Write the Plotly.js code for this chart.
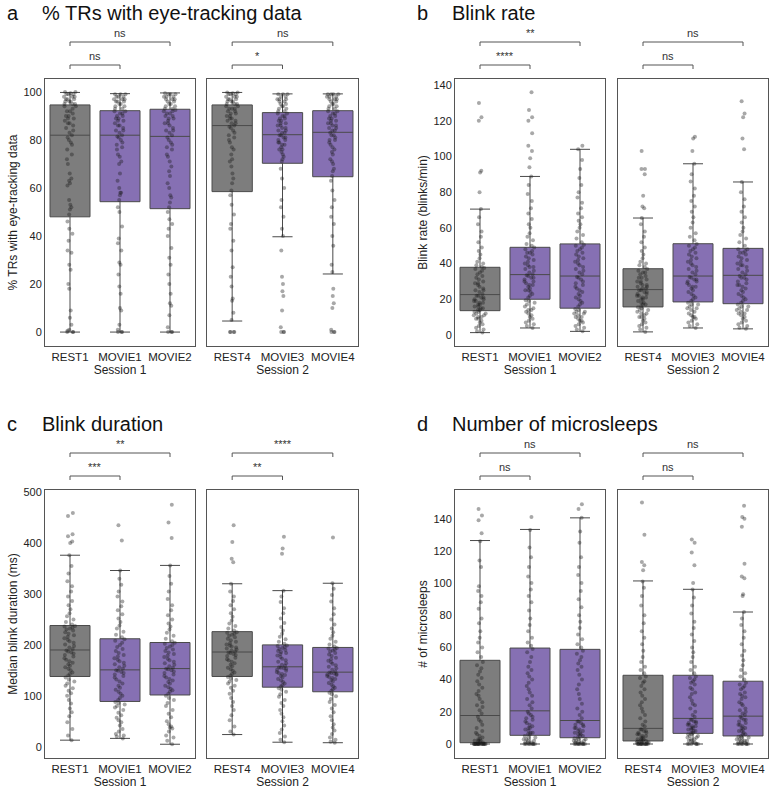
<!DOCTYPE html>
<html>
<head>
<meta charset="utf-8">
<script src="https://cdn.plot.ly/plotly-3.0.1.min.js"></script>
<style>
  body { margin: 0; background: #fff; }
  #chart { width: 772px; height: 790px; }
</style>
</head>
<body>
<div id="chart"></div>
<script>
// groups per session
var session1 = ['REST1', 'MOVIE1', 'MOVIE2'];
var session2 = ['REST4', 'MOVIE3', 'MOVIE4'];

// panel titles / y titles
var panelLetters = ['a', 'b', 'c', 'd'];
var panelTitles = ['% TRs with eye-tracking data', 'Blink rate', 'Blink duration', 'Number of microsleeps'];
var yTitles = ['% TRs with eye-tracking data', 'Blink rate (blinks/min)', 'Median blink duration (ms)', '# of microsleeps'];

// box stats, order: REST1, MOVIE1, MOVIE2, REST4, MOVIE3, MOVIE4
var aQ1 = [48, 54.3, 51.4, 58.5, 70.3, 64.7];
var aMed = [82, 82, 81.5, 86, 82.2, 83.2];
var aQ3 = [94.6, 92.2, 92.8, 94.6, 91.4, 92.2];
var aLo = [0, 0, 0, 4.6, 39.7, 24.2];
var aHi = [99.8, 99.3, 99.6, 99.8, 99.2, 99.2];

var bQ1 = [13.6, 20, 15, 15.7, 18.5, 17.5];
var bMed = [22.6, 33.8, 33, 25.4, 33, 33.4];
var bQ3 = [37.9, 49.1, 51, 37.1, 51.1, 48.5];
var bLo = [1.3, 3.9, 2, 1.7, 3.9, 3.4];
var bHi = [70.5, 88.8, 104, 65.5, 95.9, 85.7];

var cQ1 = [138, 89, 101.7, 138, 117, 108];
var cMed = [190, 151, 153.5, 186, 157, 146.5];
var cQ3 = [238, 212, 204.7, 226, 200, 195];
var cLo = [13, 16.5, 5, 24, 9, 8];
var cHi = [376, 346, 356, 320, 306.5, 321];

var dQ1 = [0.8, 5.4, 3.9, 1.9, 6.6, 5];
var dMed = [17.7, 20.6, 14.6, 9.7, 15.9, 17.3];
var dQ3 = [52, 59.6, 58.8, 42.7, 42.7, 39];
var dLo = [0, 0, 0, 0, 0, 0];
var dHi = [126.4, 133.3, 140.5, 101.3, 96.1, 82];

// individual subjects
var aRest1 = [0,0,0,0.5,1,3,6,9,18,20,26,28,33,34,38,41,43,46,49,51,52,53,55,61,62,63,64,66,70,72,74,76,78,79,80,81,82,83,84,85,86,87,87,88,89,89,90,90,91,92,92,93,94,94,95,95,95,96,96,96,97,97,97,98,98,98,99,99,99,99.5,100,100];
var aMovie1 = [0,0,0,1,3,9,10,16,19,24,28,29,34,37,39,44,50,52,55,57,58,58,60,63,66,70,71,73,74,76,77,78,79,80,81,81.5,82,83,84,84,85,86,86,87,88,88,89,89,90,90,91,91,92,92,93,93,94,94,95,95,96,96,96,97,97,97,98,98,98,99,99,99];
var aMovie2 = [0,0,0,2,7,11,12,16,20,24,28,31,35,40,43,45,47,50,52,54,56,57,60,62,65,67,69,71,73,74,76,77,78,79,80,81,82,83,84,84,85,86,87,87,88,89,89,90,90,91,91,92,92,92.5,93,93,94,94,95,95,96,96,97,97,97,98,98,98,99,99,99,99.5];
var aRest4 = [0,0,0,0,5,8,13,14,19,23,27,34,38,43,45,49,53,57,59,62,64,66,69,71,72,74,76,77,79,80,81,82,83,84,85,85.5,86,87,87,88,88,89,89,90,90,91,91,92,92,93,93,93,94,94,95,95,95,96,96,96,97,97,97,98,98,98,99,99,99,99.5,99.8,99.8];
var aMovie3 = [0,0,0,2,9,15,17,20,23,34,40,43,48,52,55,60,64,68,71,72,73,74,75,76,76,77,78,78,79,79,80,80,81,81,82,82,83,83,84,84,85,85,86,86,87,87,88,88,89,89,90,90,91,91,92,92,93,93,94,94,95,95,96,96,97,97,97,98,98,99,99,99];
var aMovie4 = [0,0,0,1,10,12,15,18,25,28,36,40,45,48,52,55,59,63,65,67,68,70,71,72,74,75,76,77,78,79,80,80,81,82,82,83,84,84,85,85,86,86,87,87,88,88,89,89,90,90,91,91,92,92,93,93,94,94,95,95,96,96,97,97,97,98,98,98,99,99,99,99];

var bRest1 = [1.3,2,3,4,5,6,7,8,9,9,10,10,11,11,12,12,13,13,14,14,15,15,16,16,17,17,18,18,19,19,20,20,21,21,22,22,23,24,25,25,26,27,28,29,29,30,31,32,33,34,35,36,37,37.5,38,39,40,41,43,45,47,49,52,55,58,62,66,70.5,80,91,92,120,122,130];
var bMovie1 = [3.9,5,6,7,8,9,10,11,12,13,14,14,15,16,17,18,19,19.5,21,22,23,24,25,25,26,27,28,28,29,30,30,31,32,32,33,33.5,34,35,36,37,38,38,39,40,41,42,43,44,45,46,46,47,48,49,50,51,53,55,57,60,62,65,68,71,75,79,84,88.8,94,99,103,106,113,120,122,126,136];
var bMovie2 = [2,3,4,5,6,7,8,8,9,10,10,11,12,12,13,13,14,14.5,16,17,18,19,20,21,22,23,24,25,26,27,28,29,30,31,32,32.5,34,35,36,37,38,39,40,41,42,43,44,45,46,47,48,49,50,50.5,52,54,56,58,60,62,64,66,68,71,74,77,80,84,88,93,98,104,106];
var bRest4 = [1.7,3,4,5,6,7,8,9,10,10,11,12,12,13,14,14,15,15.5,16,17,17,18,18,19,20,20,21,21,22,22,23,23,24,24,25,25,26,26,27,27,28,28,29,30,30,31,32,32,33,34,35,35,36,37,38,39,40,41,43,45,47,49,52,55,58,62,65.5,71,72,78,90,93,93,103];
var bMovie3 = [3.9,5,6,7,8,9,10,10,11,12,13,14,15,15,16,17,17,18,19,20,21,22,23,24,25,26,27,27,28,29,30,30,31,31,32,32.5,34,35,36,37,38,39,40,41,42,43,44,45,46,47,48,49,50,51,53,55,57,60,63,66,69,72,75,78,82,86,90,95.9,103,110,111];
var bMovie4 = [3.4,4,5,6,7,8,9,10,11,12,12,13,14,14,15,16,16,17,18,19,20,21,22,23,24,25,26,27,28,28,29,30,31,32,32,33,34,35,36,37,38,39,39,40,41,42,43,44,45,46,46,47,48,48,50,52,54,56,58,60,63,66,69,72,76,80,85.7,104,110,122,124,131];

var cRest1 = [13,22,35,48,60,68,75,85,92,100,105,110,115,120,124,128,132,136,140,143,146,150,153,156,159,162,165,168,171,174,177,180,183,185,187,189,192,195,198,201,204,207,210,213,216,219,222,225,228,230,232,234,236,237,240,245,250,256,262,270,278,286,295,305,315,325,340,355,376,400,403,413,417,453,459];
var cMovie1 = [16.5,20,22,25,30,35,42,48,52,57,62,67,72,77,80,83,86,88,92,96,100,104,108,112,116,120,124,128,132,136,139,142,145,147,149,150,153,156,159,162,165,168,171,174,177,180,184,188,192,196,200,204,208,211,215,220,226,232,238,245,252,260,268,276,285,295,305,318,330,346,405,435];
var cMovie2 = [5,12,18,22,30,36,38,40,44,50,58,65,72,80,86,92,96,100,104,108,111,114,117,120,124,127,130,133,136,139,142,145,148,150,152,153,155,158,161,164,167,170,173,176,179,182,185,188,191,194,197,200,202,204,207,212,218,224,230,236,242,250,258,268,278,290,305,320,335,356,410,440,475];
var cRest4 = [24,30,40,52,62,72,80,88,96,104,110,116,120,124,128,131,134,137,140,143,146,149,152,155,158,161,164,167,170,172,175,178,180,182,184,185,187,189,191,193,195,197,199,201,203,206,209,212,215,218,220,222,224,225,228,232,237,242,248,255,262,270,278,286,295,305,320,362,369,402,435];
var cMovie3 = [9,14,20,27,34,42,50,58,65,72,80,86,92,98,103,108,112,115,119,121,124,127,130,133,136,139,141,143,145,147,149,151,153,154,155,156,159,161,164,167,170,173,176,179,182,184,186,188,190,192,194,196,198,199,202,206,211,216,222,228,235,243,252,262,272,284,295,306.5,379,389,412];
var cMovie4 = [8,10,14,18,25,32,38,44,52,60,68,75,82,88,94,99,103,106,110,113,116,119,122,125,128,131,133,135,137,139,141,142,143,144,145,146,148,151,154,157,160,163,166,169,172,175,178,181,184,187,189,191,193,194,197,201,206,212,218,225,232,240,250,260,272,285,298,310,321,411];

var dRest1 = [0,0,0,0,0,0,0,0,0,0,0,0,0,0,0,0,0,0,1,1,1,2,2,2,3,3,4,5,6,7,8,10,12,14,15,17,19,21,23,24,26,28,30,31,33,35,37,39,41,43,45,47,49,51,54,57,60,63,66,70,75,78,84,88,92,95,98,110,114,126,131,139,142,146];
var dMovie1 = [0,0,0,0,0,0,0,0,1,1,1,2,2,3,3,4,4,5,6,6,7,7,8,9,10,10,11,12,13,14,15,16,17,18,19,20,22,24,26,28,30,32,34,36,38,40,42,44,46,48,51,54,57,59,61,63,66,70,74,78,83,88,92,96,100,104,110,116,122,133,141];
var dMovie2 = [0,0,0,0,0,0,0,0,0,1,1,1,2,2,2,3,3,3.5,4,5,5,6,6,7,7,8,8,9,10,10,11,12,12,13,14,14,16,18,20,22,25,28,31,34,37,40,43,46,48,50,52,54,56,58,60,62,65,68,72,76,80,85,90,95,100,105,110,116,125,132,140.5,146,149];
var dRest4 = [0,0,0,0,0,0,0,0,0,0,0,0,1,1,1,1,1,1.5,2,2,2,3,3,3,4,4,5,5,6,6,7,7,8,8,9,9,11,12,14,16,18,20,22,24,26,28,30,32,34,36,38,39,41,42,44,46,48,51,54,58,62,66,70,75,80,86,92,97,101,108,111,113,130,150];
var dMovie3 = [0,0,0,0,0,0,1,1,2,2,3,3,4,4,5,5,6,6,7,7,8,8,9,9,10,10,11,11,12,12,13,13,14,14,15,15,17,18,20,22,24,25,27,29,31,32,34,35,37,38,39,40,41,42,44,46,48,51,54,57,60,64,68,72,76,81,86,91,96,100,111,119,125,127];
var dMovie4 = [0,0,0,0,0,0,0,1,1,1,2,2,2,3,3,4,4,4.5,5,6,6,7,8,8,9,10,10,11,12,12,13,14,15,15,16,17,18,19,20,21,22,24,25,26,28,29,30,31,32,34,35,36,37,38,40,42,44,46,49,52,55,58,62,66,70,74,78,82,92,93,103,104,112,135,140,141,148];

// significance labels: [REST vs first movie, REST vs second movie] per session
var aSig = [['ns', 'ns'], ['*', 'ns']];
var bSig = [['****', '**'], ['ns', 'ns']];
var cSig = [['***', '**'], ['**', '****']];
var dSig = [['ns', 'ns'], ['ns', 'ns']];

var panels = [
  {q1: aQ1, med: aMed, q3: aQ3, lo: aLo, hi: aHi, pts: [aRest1, aMovie1, aMovie2, aRest4, aMovie3, aMovie4], sig: aSig, range: [-5.8, 105.4], dtick: 20},
  {q1: bQ1, med: bMed, q3: bQ3, lo: bLo, hi: bHi, pts: [bRest1, bMovie1, bMovie2, bRest4, bMovie3, bMovie4], sig: bSig, range: [-6.2, 143.4], dtick: 20},
  {q1: cQ1, med: cMed, q3: cQ3, lo: cLo, hi: cHi, pts: [cRest1, cMovie1, cMovie2, cRest4, cMovie3, cMovie4], sig: cSig, range: [-22, 504], dtick: 100},
  {q1: dQ1, med: dMed, q3: dQ3, lo: dLo, hi: dHi, pts: [dRest1, dMovie1, dMovie2, dRest4, dMovie3, dMovie4], sig: dSig, range: [-8.7, 157.8], dtick: 20}
];

var W = 772, H = 790;
var FONT = 'Arial, "Liberation Sans", sans-serif';
var grayFill = '#7d7d7d';
var purpleFill = '#8670b3';
var edge = '#4a4a4a';

// pixel layout of the 8 frames
var colsPx = [[45, 195], [207, 358], [455, 605], [618, 768]];
var rowsPx = [[79, 346], [490, 758]];
function px(x) { return x / W; }
function py(y) { return 1 - y / H; }

var data = [];
var layout = {
  width: W, height: H,
  margin: {l: 0, r: 0, t: 0, b: 0},
  paper_bgcolor: '#fff', plot_bgcolor: '#fff',
  font: {family: FONT, color: '#222', size: 11},
  boxmode: 'overlay',
  showlegend: false,
  hovermode: false,
  shapes: [],
  annotations: []
};

panels.forEach(function (p, pi) {
  var row = Math.floor(pi / 2), colPair = (pi % 2) * 2;
  var top = rowsPx[row][0], bottom = rowsPx[row][1];

  // panel heading
  layout.annotations.push({
    xref: 'paper', yref: 'paper', x: px(colsPx[colPair][0] - 40), y: py(top - 66),
    xanchor: 'left', yanchor: 'middle', showarrow: false,
    text: panelLetters[pi], font: {size: 20, color: '#111'}
  });
  layout.annotations.push({
    xref: 'paper', yref: 'paper', x: px(colsPx[colPair][0] - 5), y: py(top - 66),
    xanchor: 'left', yanchor: 'middle', showarrow: false,
    text: panelTitles[pi], font: {size: 20, color: '#111'}
  });

  for (var s = 0; s < 2; s++) {
    var n = pi * 2 + s + 1;
    var xa = 'x' + (n === 1 ? '' : n), ya = 'y' + (n === 1 ? '' : n);
    var cats = s === 0 ? session1 : session2;
    var col = colsPx[colPair + s];

    layout['xaxis' + (n === 1 ? '' : n)] = {
      domain: [px(col[0]), px(col[1])], anchor: ya,
      type: 'category', categoryorder: 'array', categoryarray: cats,
      range: [-0.5, 2.5], showline: true, mirror: true, linecolor: '#555', linewidth: 1,
      showgrid: false, zeroline: false, ticks: '', tickfont: {size: 11.5, color: '#222'},
      title: {text: 'Session ' + (s + 1), font: {size: 12, color: '#222'}, standoff: 0}
    };
    layout['yaxis' + (n === 1 ? '' : n)] = {
      domain: [py(bottom), py(top)], anchor: xa,
      range: p.range, dtick: p.dtick, tick0: 0,
      showline: true, mirror: true, linecolor: '#555', linewidth: 1,
      showgrid: false, zeroline: false, ticks: '',
      showticklabels: s === 0, tickfont: {size: 11, color: '#222'},
      title: s === 0 ? {text: yTitles[pi], font: {size: 12, color: '#222'}, standoff: 3} : {text: ''}
    };

    for (var g = 0; g < 3; g++) {
      var k = s * 3 + g;
      data.push({
        type: 'box', xaxis: xa, yaxis: ya, x: [cats[g]],
        q1: [p.q1[k]], median: [p.med[k]], q3: [p.q3[k]],
        lowerfence: [p.lo[k]], upperfence: [p.hi[k]],
        boxpoints: false, width: 0.8, whiskerwidth: 0.5,
        fillcolor: g === 0 ? grayFill : purpleFill,
        line: {color: edge, width: 1}
      });
      var pts = p.pts[k];
      data.push({
        type: 'box', xaxis: xa, yaxis: ya,
        x: pts.map(function () { return cats[g]; }), y: pts,
        boxpoints: 'all', jitter: 0.32, pointpos: 0, width: 0.8,
        fillcolor: 'rgba(0,0,0,0)', line: {color: 'rgba(0,0,0,0)', width: 0},
        marker: {color: 'rgba(25,25,25,0.38)', size: 4, line: {width: 0}}
      });
    }

    // significance brackets: short (0-1) lower, long (0-2) upper
    [[1, 14], [2, 37]].forEach(function (c, ci) {
      var yLine = py(top - c[1]), yTick = py(top - c[1] + 4);
      var lineStyle = {color: '#555', width: 1};
      layout.shapes.push({type: 'line', xref: xa, yref: 'paper', x0: 0, x1: c[0], y0: yLine, y1: yLine, line: lineStyle});
      layout.shapes.push({type: 'line', xref: xa, yref: 'paper', x0: 0, x1: 0, y0: yLine, y1: yTick, line: lineStyle});
      layout.shapes.push({type: 'line', xref: xa, yref: 'paper', x0: c[0], x1: c[0], y0: yLine, y1: yTick, line: lineStyle});
      layout.annotations.push({
        xref: xa, yref: 'paper', x: c[0] / 2, y: py(top - c[1] - 1),
        xanchor: 'center', yanchor: 'bottom', showarrow: false,
        text: p.sig[s][ci], font: {size: 11, color: '#333'}
      });
    });
  }
});

Plotly.newPlot('chart', data, layout, {staticPlot: true});
</script>
</body>
</html>
